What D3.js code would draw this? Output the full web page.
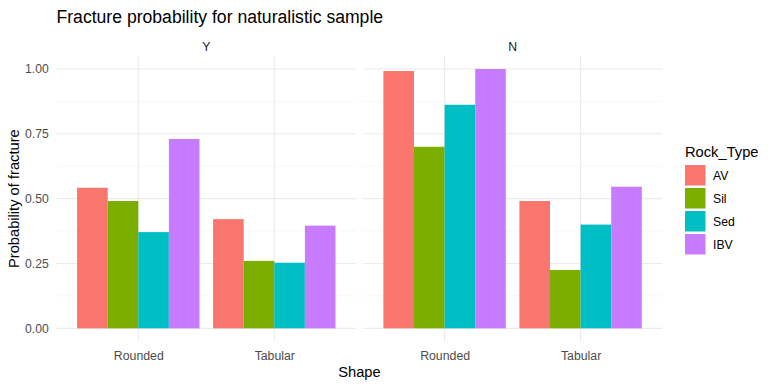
<!DOCTYPE html>
<html>
<head>
<meta charset="utf-8">
<script src="https://cdn.jsdelivr.net/npm/d3@7"></script>
<style>
  body { margin: 0; background: #fff; }
  svg { font-family: "Liberation Sans", Arial, sans-serif; }
</style>
</head>
<body>
<svg width="773" height="387"></svg>
<script>
// Data
const facets = ["Y", "N"];
const shapes = ["Rounded", "Tabular"];
const rockTypes = ["AV", "Sil", "Sed", "IBV"];
const colors = ["#F8766D", "#7CAE00", "#00BFC4", "#C77CFF"];
const valuesY = [
  [0.542, 0.491, 0.371, 0.730],   // Rounded
  [0.421, 0.260, 0.253, 0.396]    // Tabular
];
const valuesN = [
  [0.992, 0.700, 0.862, 1.000],
  [0.491, 0.225, 0.400, 0.546]
];
const yTicks = [0, 0.25, 0.5, 0.75, 1];
const yMinor = [0.125, 0.375, 0.625, 0.875];

const width = 773, height = 387;
const svg = d3.select("svg");

const panelTop = 56, panelBottom = 341.3;
const panels = [
  { name: facets[0], x0: 56.7, x1: 355.9, values: valuesY },
  { name: facets[1], x0: 363, x1: 662.2, values: valuesN }
];

const y = d3.scaleLinear().domain([-0.05, 1.05]).range([panelBottom, panelTop]);
const color = d3.scaleOrdinal().domain(rockTypes).range(colors);

// Title
svg.append("text")
  .attr("x", 56.5).attr("y", 22.5)
  .attr("font-size", 17.6).attr("fill", "#000")
  .text("Fracture probability for naturalistic sample");

panels.forEach((p, pi) => {
  const g = svg.append("g");
  const x = d3.scalePoint().domain(shapes).range([p.x0, p.x1]).padding(0.6);
  const step = x.step();
  const inner = d3.scaleBand().domain(rockTypes)
    .range([-0.45 * step, 0.45 * step]);

  // grid
  g.selectAll(".minor").data(yMinor).enter().append("line")
    .attr("x1", p.x0).attr("x2", p.x1)
    .attr("y1", d => y(d)).attr("y2", d => y(d))
    .attr("stroke", "#f2f2f2").attr("stroke-width", 0.6);
  g.selectAll(".major").data(yTicks).enter().append("line")
    .attr("x1", p.x0).attr("x2", p.x1)
    .attr("y1", d => y(d)).attr("y2", d => y(d))
    .attr("stroke", "#ebebeb").attr("stroke-width", 1.1);
  g.selectAll(".vgrid").data(shapes).enter().append("line")
    .attr("x1", d => x(d)).attr("x2", d => x(d))
    .attr("y1", panelTop).attr("y2", panelBottom)
    .attr("stroke", "#ebebeb").attr("stroke-width", 1.1);

  // bars
  shapes.forEach((s, si) => {
    g.selectAll(null).data(p.values[si]).enter().append("rect")
      .attr("x", (d, i) => x(s) + inner(rockTypes[i]))
      .attr("width", inner.bandwidth())
      .attr("y", d => y(d))
      .attr("height", d => y(0) - y(d))
      .attr("fill", (d, i) => color(rockTypes[i]));
  });

  // strip label
  svg.append("text")
    .attr("x", (p.x0 + p.x1) / 2).attr("y", 50.5)
    .attr("text-anchor", "middle")
    .attr("font-size", 12.2).attr("fill", "#1a1a1a")
    .text(p.name);

  // x axis
  const xAxis = svg.append("g")
    .attr("transform", `translate(0,${panelBottom + 2.5})`)
    .call(d3.axisBottom(x).tickSize(0).tickPadding(7));
  xAxis.select(".domain").remove();
  xAxis.selectAll("text")
    .attr("font-family", "Liberation Sans, Arial, sans-serif")
    .attr("font-size", 12.3).attr("fill", "#4d4d4d");

  // y axis only on first panel
  if (pi === 0) {
    const yAxis = svg.append("g")
      .attr("transform", `translate(${p.x0},0)`)
      .call(d3.axisLeft(y).tickValues(yTicks).tickFormat(d3.format(".2f"))
        .tickSize(0).tickPadding(8));
    yAxis.select(".domain").remove();
    yAxis.selectAll("text")
      .attr("font-family", "Liberation Sans, Arial, sans-serif")
      .attr("font-size", 12.2).attr("fill", "#4d4d4d");
  }
});

// axis titles
svg.append("text")
  .attr("x", (panels[0].x0 + panels[1].x1) / 2).attr("y", 376.5)
  .attr("text-anchor", "middle")
  .attr("font-size", 14.7).attr("fill", "#000")
  .text("Shape");

svg.append("text")
  .attr("transform", `translate(19,${(panelTop + panelBottom) / 2}) rotate(-90)`)
  .attr("text-anchor", "middle")
  .attr("font-size", 14.7).attr("fill", "#000")
  .text("Probability of fracture");

// legend
const legend = svg.append("g").attr("transform", "translate(685,0)");
legend.append("text")
  .attr("x", 0).attr("y", 156.5)
  .attr("font-size", 14.7).attr("fill", "#000")
  .text("Rock_Type");
const item = legend.selectAll(".item").data(rockTypes).enter().append("g")
  .attr("transform", (d, i) => `translate(0,${165 + i * 23})`);
item.append("rect")
  .attr("width", 20.5).attr("height", 20.5)
  .attr("fill", d => color(d));
item.append("text")
  .attr("x", 28).attr("y", 10.5).attr("dy", "0.35em")
  .attr("font-size", 12.2).attr("fill", "#000")
  .text(d => d);
</script>
</body>
</html>
